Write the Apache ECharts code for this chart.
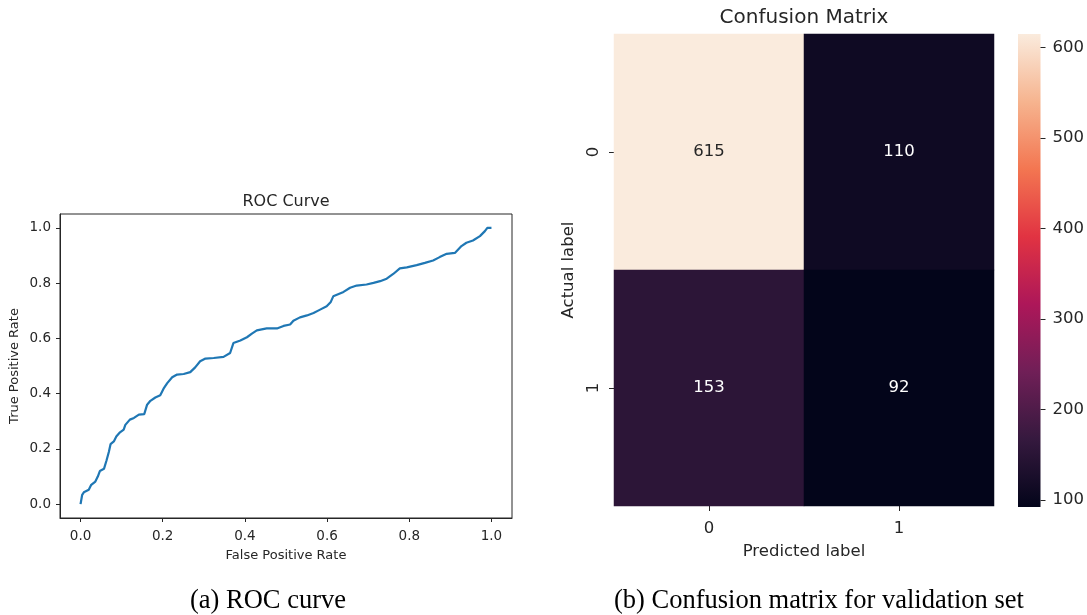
<!DOCTYPE html>
<html>
<head>
<meta charset="utf-8">
<script src="https://cdn.jsdelivr.net/npm/echarts@6/dist/echarts.min.js"></script>
<style>
html,body{margin:0;padding:0;background:#fff;}
#c{width:1087px;height:615px;}
</style>
</head>
<body>
<div id="c"></div>
<script>
// ---- ROC curve data ----
var rocFpr = [0,0.004,0.008,0.02,0.026,0.036,0.042,0.047,0.057,0.063,0.069,0.073,0.081,0.087,0.096,0.105,0.109,0.12,0.13,0.142,0.155,0.162,0.17,0.182,0.194,0.202,0.211,0.223,0.235,0.251,0.267,0.279,0.291,0.304,0.324,0.348,0.364,0.372,0.389,0.405,0.417,0.429,0.453,0.478,0.494,0.51,0.518,0.534,0.551,0.567,0.583,0.599,0.609,0.615,0.64,0.656,0.672,0.696,0.713,0.729,0.745,0.761,0.777,0.794,0.818,0.838,0.858,0.874,0.891,0.911,0.927,0.939,0.955,0.972,0.984,0.99,1.0];
var rocTpr = [0,0.034,0.043,0.052,0.07,0.082,0.10,0.12,0.128,0.157,0.19,0.217,0.227,0.245,0.26,0.27,0.287,0.306,0.312,0.324,0.326,0.36,0.374,0.386,0.394,0.418,0.438,0.459,0.469,0.471,0.478,0.495,0.517,0.527,0.529,0.533,0.547,0.583,0.592,0.604,0.617,0.629,0.636,0.636,0.645,0.65,0.664,0.676,0.683,0.692,0.704,0.716,0.732,0.752,0.768,0.783,0.791,0.795,0.801,0.807,0.816,0.833,0.853,0.857,0.865,0.873,0.882,0.894,0.906,0.909,0.934,0.946,0.954,0.97,0.988,1.0,1.0];
var rocTicks = [0, 0.2, 0.4, 0.6, 0.8, 1.0];

// ---- Confusion matrix data ----
var cmCategories = ['0', '1'];
var cmRow0 = [615, 110];   // actual 0
var cmRow1 = [153, 92];    // actual 1
var cbarTicks = [100, 200, 300, 400, 500, 600];
var cmMin = 92, cmMax = 615;

// seaborn "rocket" colormap stops
var rocket = ['#03051a','#35193e','#701f57','#ad1759','#e13342','#f37651','#f6b48f','#faebdd'];

var rocData = rocFpr.map(function (x, i) { return [x, rocTpr[i]]; });
var cmRows = [cmRow0, cmRow1];
var cmData = [];
cmRows.forEach(function (row, yi) {
  row.forEach(function (v, xi) {
    cmData.push({
      value: [xi, yi, v],
      label: { color: v > (cmMin + cmMax) / 2 ? '#262626' : '#ffffff' }
    });
  });
});

var txt = '#262626';
var font = 'DejaVu Sans';

var chart = echarts.init(document.getElementById('c'), null, { renderer: 'canvas' });
chart.setOption({
  animation: false,
  backgroundColor: '#ffffff',
  textStyle: { fontFamily: font },
  title: [
    { text: 'ROC Curve', left: 286, top: 194, textAlign: 'center', padding: 0,
      textStyle: { fontFamily: font, fontSize: 16, fontWeight: 'normal', color: txt } },
    { text: 'Confusion Matrix', left: 804, top: 8, textAlign: 'center', padding: 0,
      textStyle: { fontFamily: font, fontSize: 20, fontWeight: 'normal', color: txt } },
    { text: '(a) ROC curve', left: 190, top: 588, padding: 0,
      textStyle: { fontFamily: 'Liberation Serif', fontSize: 26.5, fontWeight: 'normal', color: '#000' } },
    { text: '(b) Confusion matrix for validation set', left: 614, top: 588, padding: 0,
      textStyle: { fontFamily: 'Liberation Serif', fontSize: 26.5, fontWeight: 'normal', color: '#000' } }
  ],
  grid: [
    { left: 60, top: 214, width: 452, height: 304, show: true, borderColor: '#262626', borderWidth: 1, backgroundColor: 'transparent' },
    { left: 614, top: 34, width: 380, height: 472 },
    { left: 1018, top: 34, width: 23, height: 473 }
  ],
  xAxis: [
    { gridIndex: 0, type: 'value', min: -0.05, max: 1.05,
      name: 'False Positive Rate', nameLocation: 'middle', nameGap: 31,
      nameTextStyle: { fontFamily: font, fontSize: 13, color: txt },
      axisLine: { show: true, onZero: false, lineStyle: { color: '#262626', width: 1 } },
      axisTick: { show: true, length: 4, customValues: rocTicks, lineStyle: { color: '#262626' } },
      axisLabel: { customValues: rocTicks, fontSize: 13.5, color: txt, margin: 11,
        formatter: function (v) { return v.toFixed(1); } },
      splitLine: { show: false } },
    { gridIndex: 1, type: 'category', data: cmCategories,
      name: 'Predicted label', nameLocation: 'middle', nameGap: 37,
      nameTextStyle: { fontFamily: font, fontSize: 16.5, color: txt },
      axisLine: { show: false },
      axisTick: { show: true, alignWithLabel: true, length: 5, lineStyle: { color: '#262626' } },
      axisLabel: { fontSize: 16.5, color: txt, margin: 14 },
      splitLine: { show: false }, splitArea: { show: false } },
    { gridIndex: 2, type: 'value', show: false, min: 0, max: 1,
      axisLine: { onZero: false } }
  ],
  yAxis: [
    { gridIndex: 0, type: 'value', min: -0.05, max: 1.05,
      name: 'True Positive Rate', nameLocation: 'middle', nameGap: 39,
      nameTextStyle: { fontFamily: font, fontSize: 13, color: txt },
      axisLine: { show: true, onZero: false, lineStyle: { color: '#262626', width: 1 } },
      axisTick: { show: true, length: 4, customValues: rocTicks, lineStyle: { color: '#262626' } },
      axisLabel: { customValues: rocTicks, fontSize: 13.5, color: txt, margin: 9,
        formatter: function (v) { return v.toFixed(1); } },
      splitLine: { show: false } },
    { gridIndex: 1, type: 'category', data: cmCategories, inverse: true,
      name: 'Actual label', nameLocation: 'middle', nameGap: 37,
      nameTextStyle: { fontFamily: font, fontSize: 16.5, color: txt },
      axisLine: { show: false },
      axisTick: { show: true, alignWithLabel: true, length: 5, lineStyle: { color: '#262626' } },
      axisLabel: { fontSize: 16.5, color: txt, margin: 12, rotate: 90 },
      splitLine: { show: false }, splitArea: { show: false } },
    { gridIndex: 2, type: 'value', position: 'right', min: cmMin, max: cmMax,
      axisLine: { show: false, onZero: false },
      axisTick: { show: true, inside: false, length: 5, customValues: cbarTicks, lineStyle: { color: '#262626' } },
      axisLabel: { customValues: cbarTicks, fontSize: 16.5, color: txt, margin: 12 },
      splitLine: { show: false } }
  ],
  visualMap: {
    type: 'continuous', min: cmMin, max: cmMax, seriesIndex: 1,
    show: false,
    inRange: { color: rocket }
  },
  series: [
    { type: 'line', xAxisIndex: 0, yAxisIndex: 0, data: rocData,
      showSymbol: false, symbol: 'none', smooth: false,
      lineStyle: { color: '#1f77b4', width: 2.2 }, silent: true },
    { type: 'heatmap', xAxisIndex: 1, yAxisIndex: 1, data: cmData,
      itemStyle: { borderWidth: 0 },
      label: { show: true, fontFamily: font, fontSize: 16.5,
        formatter: function (p) { return String(p.value[2]); } },
      emphasis: { disabled: true }, silent: true }
  ]
});

// Colour bar: a gradient rectangle spanning the colour-bar axis extent (positions from the library's scales)
var pTop = chart.convertToPixel({ xAxisIndex: 2, yAxisIndex: 2 }, [0, cmMax]);
var pBot = chart.convertToPixel({ xAxisIndex: 2, yAxisIndex: 2 }, [1, cmMin]);
var stops = rocket.map(function (c, i) {
  return { offset: i / (rocket.length - 1), color: c };
}).reverse().map(function (s) { return { offset: 1 - s.offset, color: s.color }; });
chart.setOption({
  graphic: [{
    type: 'rect', silent: true, z: 0,
    shape: { x: pTop[0], y: pTop[1], width: pBot[0] - pTop[0], height: pBot[1] - pTop[1] },
    style: { fill: new echarts.graphic.LinearGradient(0, 0, 0, 1, stops) }
  }]
});
</script>
</body>
</html>
